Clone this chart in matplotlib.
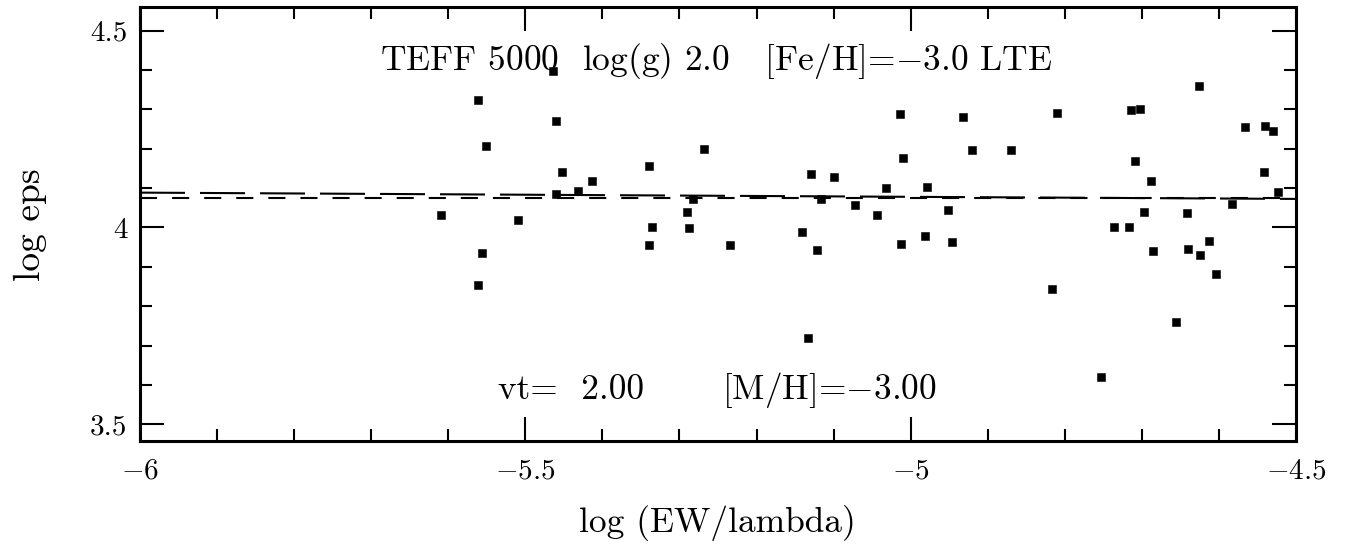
import matplotlib
matplotlib.use("Agg")
import matplotlib.pyplot as plt
from matplotlib.ticker import FixedLocator, FixedFormatter, MultipleLocator

plt.rcParams['mathtext.fontset'] = 'cm'
plt.rcParams['font.family'] = ['cmr10', 'DejaVu Serif']
plt.rcParams['axes.unicode_minus'] = False

# ---- data ----
log_ew = [-5.4637, -5.561, -5.460, -5.551, -5.268, -5.340, -5.452, -5.413, -5.432, -5.460,
          -5.282, -5.609, -5.510, -5.290, -5.335, -5.287, -5.340, -5.556, -5.561,
          -5.0143, -4.932, -5.010, -4.920, -4.870, -5.129, -5.099, -5.032, -4.979, -5.116,
          -5.072, -5.044, -4.952, -5.141, -5.235, -5.121, -5.012, -4.981, -4.946, -5.133,
          -4.626, -4.810, -4.714, -4.703, -4.566, -4.540, -4.530, -4.709, -4.688, -4.541,
          -4.523, -4.583, -4.697, -4.642, -4.736, -4.717, -4.685, -4.640, -4.625, -4.613,
          -4.604, -4.817, -4.656, -4.753]
log_eps = [4.398, 4.323, 4.270, 4.207, 4.200, 4.155, 4.140, 4.119, 4.093, 4.086,
           4.073, 4.031, 4.018, 4.039, 4.001, 3.998, 3.956, 3.934, 3.854,
           4.289, 4.280, 4.176, 4.196, 4.197, 4.136, 4.129, 4.100, 4.103, 4.072,
           4.058, 4.032, 4.045, 3.988, 3.956, 3.943, 3.958, 3.978, 3.963, 3.719,
           4.360, 4.290, 4.298, 4.301, 4.256, 4.257, 4.245, 4.170, 4.117, 4.141,
           4.091, 4.060, 4.040, 4.036, 4.001, 4.001, 3.941, 3.946, 3.931, 3.966,
           3.882, 3.844, 3.761, 3.621]

fit_x = [-6.0, -4.5]
fit_y = [4.0885, 4.0725]
mean_eps = 4.0755

x_major = [-6, -5.5, -5, -4.5]
x_labels = [r'$-6$', r'$-5.5$', r'$-5$', r'$-4.5$']
y_major = [3.5, 4.0, 4.5]
y_labels = ['3.5', '4', '4.5']

title_text = r'TEFF 5000  log(g) 2.0   [Fe/H]=$-$3.0 LTE'
vt_text = 'vt=  2.00'
mh_text = r'[M/H]=$-$3.00'

# ---- figure ----
fig = plt.figure(figsize=(13.56, 5.5), dpi=100)
ax = fig.add_axes([140/1356, 1-441/550, 1156/1356, 434/550])

ax.plot(log_ew, log_eps, linestyle='none', marker='s', markersize=5.6,
        markerfacecolor='black', markeredgecolor='black', markeredgewidth=0.4)
ax.plot(fit_x, fit_y, color='black', linewidth=1.5, dashes=(21.6, 7.2),
        dash_capstyle='butt')
ax.axhline(mean_eps, color='black', linewidth=1.5, dashes=(8.2, 7.2), dash_capstyle='butt')

ax.set_xlim(-6, -4.5)
ax.set_ylim(3.4576, 4.560)

ax.xaxis.set_major_locator(FixedLocator(x_major))
ax.xaxis.set_major_formatter(FixedFormatter(x_labels))
ax.xaxis.set_minor_locator(MultipleLocator(0.1))
ax.yaxis.set_major_locator(FixedLocator(y_major))
ax.yaxis.set_major_formatter(FixedFormatter(y_labels))
ax.yaxis.set_minor_locator(MultipleLocator(0.1))

ax.tick_params(which='both', direction='in', top=True, right=True, width=1.5, colors='black')
ax.tick_params(which='major', length=17, labelsize=21, pad=12)
ax.tick_params(which='minor', length=8.5)
ax.tick_params(axis='y', which='major', pad=9)
for s in ax.spines.values():
    s.set_linewidth(2.2)

ax.text((380-140)/1156, (441-70)/434, title_text, transform=ax.transAxes,
        ha='left', va='baseline', fontsize=25.5)
ax.text((498-140)/1156, (441-399)/434, vt_text, transform=ax.transAxes,
        ha='left', va='baseline', fontsize=25.5)
ax.text((722-140)/1156, (441-399)/434, mh_text, transform=ax.transAxes,
        ha='left', va='baseline', fontsize=25.5)

fig.text(30/1356, 1-225/550, 'log eps', rotation=90, ha='center', va='center', fontsize=27)
fig.text(717/1356, 1-523/550, 'log (EW/lambda)', ha='center', va='center', fontsize=25.5)

fig.savefig('out.png', dpi=100)
